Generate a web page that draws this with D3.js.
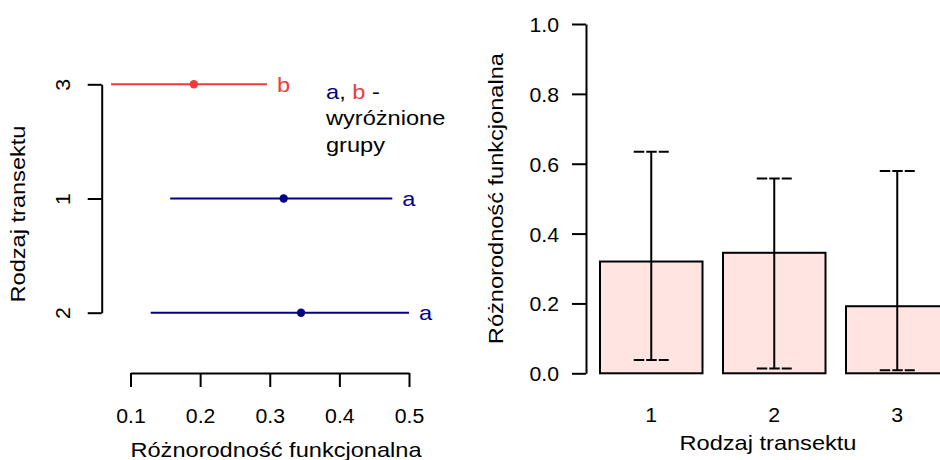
<!DOCTYPE html>
<html>
<head>
<meta charset="utf-8">
<script src="https://cdn.jsdelivr.net/npm/d3@7"></script>
<style>
  html, body { margin: 0; padding: 0; background: #fff; }
  svg { display: block; }
  text { font-family: "Liberation Sans", Arial, Helvetica, sans-serif; }
</style>
</head>
<body>
<svg id="chart" width="940" height="460"></svg>
<script>
// Transect types as drawn top-to-bottom in the interval panel
const groupOrder = ["3", "1", "2"];
// Median and interval bounds of functional diversity per transect type
const groupMedian = [0.191, 0.320, 0.345];
const groupLower  = [0.072, 0.157, 0.129];
const groupUpper  = [0.296, 0.476, 0.500];
const groupLetter = ["b", "a", "a"];
const xTicksLeft  = [0.1, 0.2, 0.3, 0.4, 0.5];

// Bar panel: transect types 1, 2, 3
const barCategories = ["1", "2", "3"];
const barValues     = [0.320, 0.345, 0.192];
const barErrLow     = [0.038, 0.014, 0.009];
const barErrHigh    = [0.634, 0.558, 0.579];
const yTicksRight   = [0.0, 0.2, 0.4, 0.6, 0.8, 1.0];

const RED = "#EE3B3B", NAVY = "#00008B", BAR_FILL = "#FFE4E1";
const letterColor = l => (l === "b" ? RED : NAVY);

const svg = d3.select("#chart");
// glyphs are slightly wide: font size sets the height, sx widens them
const FS_TICK = "19.5px", SX_TICK = 1.09;
const FS_LAB = "20px", SX_LAB = 1.18;

// place a text at (x, y), optionally rotated, with horizontal glyph widening
function label(parent, x, y, str, opts = {}) {
  const rot = opts.rotate ? ` rotate(${opts.rotate})` : "";
  const sx = opts.sx || SX_LAB;
  return parent.append("text")
    .attr("transform", `translate(${x},${y})${rot} scale(${sx},1)`)
    .attr("text-anchor", opts.anchor || "start")
    .style("font-size", opts.size || FS_LAB)
    .attr("fill", opts.fill || "#000")
    .text(str);
}

/* ---------- left panel: medians with intervals ---------- */
const xL = d3.scaleLinear().domain([0.1, 0.5]).range([130.5, 409]);
const yL = d3.scalePoint().domain(groupOrder).range([84.3, 312.7]);

const left = svg.append("g");

// x axis (ticks below)
const xAxisL = d3.axisBottom(xL).tickValues(xTicksLeft).tickSize(14).tickSizeOuter(0)
  .tickFormat(d3.format(".1f"));
left.append("g").attr("transform", "translate(0,373)").call(xAxisL)
  .call(g => {
    g.select(".domain").attr("stroke", "#000").attr("stroke-width", 2);
    g.selectAll(".tick line").attr("stroke", "#000").attr("stroke-width", 2);
    g.selectAll(".tick text").attr("y", 0).attr("dy", null)
      .attr("transform", `translate(0,50) scale(${SX_TICK},1)`)
      .style("font-size", FS_TICK).attr("fill", "#000");
  });

// y axis with labels parallel to the axis
const yAxisL = d3.axisLeft(yL).tickSize(14).tickSizeOuter(0);
left.append("g").attr("transform", "translate(101.7,0)").call(yAxisL)
  .call(g => {
    g.select(".domain").attr("stroke", "#000").attr("stroke-width", 2);
    g.selectAll(".tick line").attr("stroke", "#000").attr("stroke-width", 2);
    g.selectAll(".tick text")
      .attr("x", null).attr("dy", null).attr("text-anchor", "middle")
      .attr("transform", `translate(-31.7,0) rotate(-90) scale(${SX_TICK},1)`)
      .style("font-size", FS_TICK).attr("fill", "#000");
  });

// interval lines, median points and group letters
const rowsL = groupOrder.map((g, i) => ({
  g, med: groupMedian[i], lo: groupLower[i], hi: groupUpper[i], letter: groupLetter[i]
}));
left.selectAll("line.ci").data(rowsL).join("line")
  .attr("x1", d => xL(d.lo)).attr("x2", d => xL(d.hi))
  .attr("y1", d => yL(d.g)).attr("y2", d => yL(d.g))
  .attr("stroke", d => letterColor(d.letter)).attr("stroke-width", 2);
left.selectAll("circle.med").data(rowsL).join("circle")
  .attr("cx", d => xL(d.med)).attr("cy", d => yL(d.g)).attr("r", 4.2)
  .attr("fill", d => letterColor(d.letter));
rowsL.forEach(d => {
  label(left, xL(d.hi) + 10, yL(d.g) + 7.2, d.letter, { fill: letterColor(d.letter) });
});

// legend note
const note = left.append("text")
  .attr("transform", `translate(326,98.5) scale(${SX_LAB},1)`).style("font-size", FS_LAB);
note.append("tspan").attr("fill", NAVY).text("a");
note.append("tspan").attr("fill", "#000").text(", ");
note.append("tspan").attr("fill", RED).text("b");
note.append("tspan").attr("fill", "#000").text(" -");
label(left, 326, 125.2, "wyróżnione");
label(left, 326, 151.9, "grupy");

// axis titles
label(left, 276, 456.7, "Różnorodność funkcjonalna", { anchor: "middle" });
label(left, 24.5, 214, "Rodzaj transektu", { anchor: "middle", rotate: -90 });

/* ---------- right panel: bars with error bars ---------- */
const xR = d3.scaleBand().domain(barCategories).range([600, 948.5])
  .paddingInner(1 / 6).paddingOuter(0);
const yR = d3.scaleLinear().domain([0, 1]).range([373.3, 24]);

const right = svg.append("g");

const yAxisR = d3.axisLeft(yR).tickValues(yTicksRight).tickSize(14).tickSizeOuter(0)
  .tickFormat(d3.format(".1f"));
right.append("g").attr("transform", "translate(586,0)").call(yAxisR)
  .call(g => {
    g.select(".domain").attr("stroke", "#000").attr("stroke-width", 2);
    g.selectAll(".tick line").attr("stroke", "#000").attr("stroke-width", 2);
    g.selectAll(".tick text").attr("x", 0).attr("dy", "0.38em")
      .attr("transform", `translate(-27,0) scale(${SX_TICK},1)`)
      .style("font-size", FS_TICK).attr("fill", "#000");
  });

const rowsR = barCategories.map((c, i) => ({
  c, v: barValues[i], lo: barErrLow[i], hi: barErrHigh[i]
}));

right.selectAll("rect.bar").data(rowsR).join("rect")
  .attr("x", d => xR(d.c)).attr("width", xR.bandwidth())
  .attr("y", d => yR(d.v)).attr("height", d => yR(0) - yR(d.v))
  .attr("fill", BAR_FILL).attr("stroke", "#000").attr("stroke-width", 2);

const cx = d => xR(d.c) + xR.bandwidth() / 2;
right.selectAll("line.err").data(rowsR).join("line")
  .attr("x1", cx).attr("x2", cx)
  .attr("y1", d => yR(d.lo)).attr("y2", d => yR(d.hi))
  .attr("stroke", "#000").attr("stroke-width", 2);
["lo", "hi"].forEach(k => {
  right.selectAll("line.cap-" + k).data(rowsR).join("line")
    .attr("x1", d => cx(d) - 17.5).attr("x2", d => cx(d) + 17.5)
    .attr("y1", d => yR(d[k])).attr("y2", d => yR(d[k]))
    .attr("stroke", "#000").attr("stroke-width", 2).attr("stroke-dasharray", "10.5,2");
});

// category labels (no axis line, as in a base barplot)
rowsR.forEach(d => {
  label(right, cx(d), 422.3, d.c, { anchor: "middle", size: FS_TICK, sx: SX_TICK });
});

label(right, 768, 450, "Rodzaj transektu", { anchor: "middle" });
label(right, 502.5, 198.6, "Różnorodność funkcjonalna", { anchor: "middle", rotate: -90 });
</script>
</body>
</html>
